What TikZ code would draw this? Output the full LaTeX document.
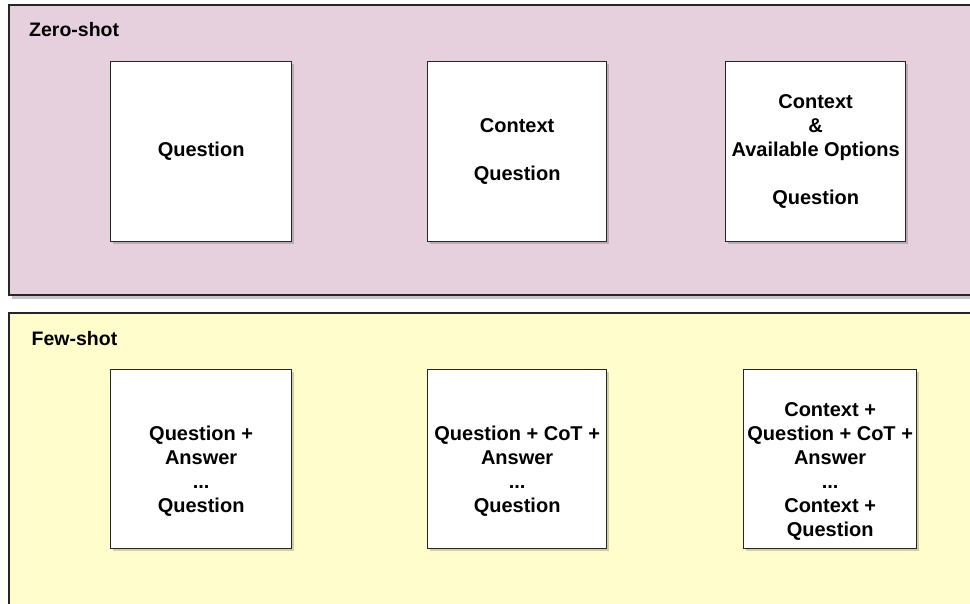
\documentclass[tikz,border=0pt]{standalone}
\usepackage{fontspec}
\setmainfont{Liberation Sans}
\begin{document}
\begin{tikzpicture}[x=1pt,y=-1pt,
  panel/.style={draw=black!85,line width=1.3pt},
  shade/.style={fill=black,fill opacity=0.22,draw=none},
  promptbox/.style={draw=black!85,line width=1.3pt,fill=white,inner sep=0pt,anchor=north west},
  prompttext/.style={align=center,font=\bfseries\fontsize{20}{24}\selectfont,inner sep=0pt},
  title/.style={anchor=base west,font=\bfseries\fontsize{19.5}{22}\selectfont,inner sep=0pt}]
\useasboundingbox (0,0) rectangle (970,603);
\begin{scope}
\clip (0,0) rectangle (970,603);
% drop shadows of the two panels
\fill[shade] (12,8) rectangle (980,299);
\fill[shade] (12,316) rectangle (980,615);
% panels
\draw[panel,fill={rgb,255:red,230;green,208;blue,222}] (9,5) rectangle (978,295);
\draw[panel,fill={rgb,255:red,255;green,253;blue,204}] (9,313) rectangle (978,612);
\end{scope}
\node[title] (zs) at (29,36) {Zero-shot};
\node[title] (fs) at (31.5,345.5) {Few-shot};
% box shadows
\foreach \x/\y/\w/\h in {110/61/181/180,427/61/179/180,725/61/180/180,110/369/181/179,427/369/179/179,743/369/173/179}
  \fill[black,opacity=0.18] (\x+3,\y+3) rectangle (\x+\w+3,\y+\h+3);
% zero-shot prompts
\node[promptbox,minimum width=181pt,minimum height=180pt] (z1) at (110,61) {};
\node[promptbox,minimum width=179pt,minimum height=180pt] (z2) at (427,61) {};
\node[promptbox,minimum width=180pt,minimum height=180pt] (z3) at (725,61) {};
\node[prompttext] (tz1) at (z1.center) {Question};
\node[prompttext] (tz2) at (z2.center) {Context\\\mbox{}\\Question};
\node[prompttext] (tz3) at (z3.center) {Context\\\&\\Available Options\\\mbox{}\\Question};
% few-shot prompts
\node[promptbox,minimum width=181pt,minimum height=179pt] (f1) at (110,369) {};
\node[promptbox,minimum width=179pt,minimum height=179pt] (f2) at (427,369) {};
\node[promptbox,minimum width=173pt,minimum height=179pt] (f3) at (743,369) {};
\node[prompttext] (tf1) at ([yshift=-12pt]f1.center) {Question +\\Answer\\...\\Question};
\node[prompttext] (tf2) at ([yshift=-12pt]f2.center) {Question + CoT +\\Answer\\...\\Question};
\node[prompttext] (tf3) at ([yshift=-12pt]f3.center) {Context +\\Question + CoT +\\Answer\\...\\Context +\\Question};
\end{tikzpicture}
\end{document}
